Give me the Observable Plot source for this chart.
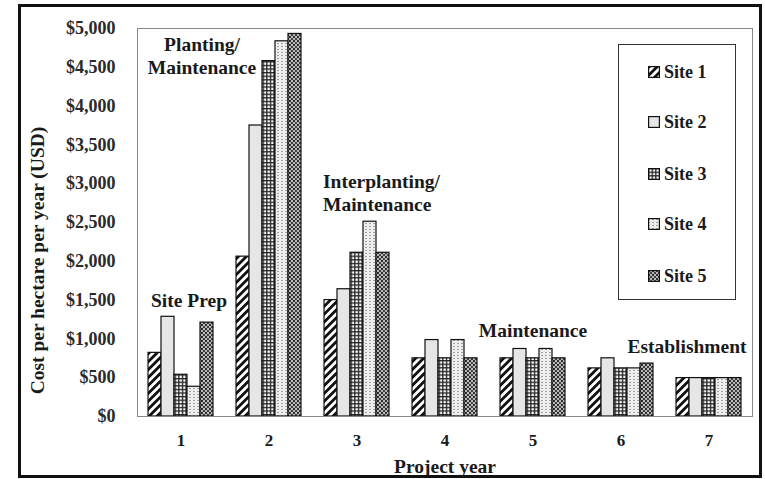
<!DOCTYPE html>
<html>
<head>
<meta charset="utf-8">
<script src="https://cdn.jsdelivr.net/npm/d3@7"></script>
<script src="https://cdn.jsdelivr.net/npm/@observablehq/plot@0.6"></script>
<style>
  html, body { margin: 0; padding: 0; background: #fff; }
  #wrap { position: relative; width: 765px; height: 479px; overflow: hidden; font-family: "Liberation Serif", serif; }
  #wrap svg, #wrap svg text { font-family: "Liberation Serif", serif; }
  #outer { position: absolute; left: 18px; top: 4px; width: 738px; height: 468px; border: 3px solid #111; pointer-events: none; }
  #frame { position: absolute; left: 137px; top: 28px; width: 614px; height: 387px; border: 1.3px solid #888; pointer-events: none; }
  #legend { position: absolute; left: 618px; top: 44px; width: 116px; height: 254px; border: 1.5px solid #333; background: #fff; }
  .entry { position: absolute; left: 29px; height: 20px; display: flex; align-items: center; font-family: "Liberation Serif", serif; font-weight: bold; font-size: 18px; color: #1a1a1a; }
  .entry svg { margin-right: 4px; }
</style>
</head>
<body>
<div id="wrap"></div>
<script>
const years = [1, 2, 3, 4, 5, 6, 7];
const sites = ["Site 1", "Site 2", "Site 3", "Site 4", "Site 5"];
const site1 = [820, 2060, 1500, 750, 750, 620, 495];
const site2 = [1285, 3750, 1640, 985, 870, 750, 495];
const site3 = [538, 4580, 2110, 750, 750, 620, 495];
const site4 = [383, 4835, 2510, 985, 870, 620, 495];
const site5 = [1210, 4930, 2110, 750, 750, 682, 495];
const yTicks = [0, 500, 1000, 1500, 2000, 2500, 3000, 3500, 4000, 4500, 5000];
const phaseLabels = ["Site Prep", "Planting/\nMaintenance", "Interplanting/\nMaintenance", "Maintenance", "Establishment"];
const phaseYears = [1, 2, 3, 5, 7];
const yTitle = "Cost per hectare per year (USD)";
const xTitle = "Project year";

const series = [site1, site2, site3, site4, site5];
const rows = [];
years.forEach((yr, i) => sites.forEach((s, j) => rows.push({year: yr, site: s, value: series[j][i]})));

const patternIds = ["p1", "p2", "p3", "p4", "p5"];
const fills = patternIds.map(id => `url(#${id})`);

// layout for the phase labels (offsets relative to the tallest bar of that year)
const phaseLayout = [
  {dx: 8, dy: -17, anchor: "middle"},
  {dx: -67, dy: 21, anchor: "middle"},
  {dx: -34, dy: -30, anchor: "start"},
  {dx: 0, dy: -19, anchor: "middle"},
  {dx: -22, dy: -33, anchor: "middle"}
];
const phases = phaseLabels.map((label, i) => ({
  label, year: phaseYears[i],
  top: d3.max(rows.filter(r => r.year === phaseYears[i]), r => r.value),
  ...phaseLayout[i]
}));

const font = {fontWeight: "bold", fill: "#1a1a1a"};
const midYear = years[Math.floor(years.length / 2)];

const marks = [
  Plot.barY(rows, {fx: "year", x: "site", y: "value", fill: "site", stroke: "#111", strokeWidth: 1.2}),
  Plot.axisY({ticks: yTicks, tickFormat: d => "$" + d3.format(",")(d), tickSize: 0, tickPadding: 31,
    fontSize: 18, fontWeight: "bold", fill: "#2a2a2a", label: null}),
  Plot.axisFx({anchor: "bottom", tickSize: 0, tickPadding: 17, fontSize: 17, fontWeight: "bold", fill: "#1a1a1a", label: null}),
  Plot.text([xTitle], {fx: () => midYear, text: d => d, frameAnchor: "bottom", textAnchor: "middle", lineAnchor: "middle",
    dy: 50, fontSize: 19.5, ...font}),
  Plot.text([yTitle], {fx: () => years[0], text: d => d, frameAnchor: "left", textAnchor: "middle", lineAnchor: "middle",
    rotate: -90, dx: -109, dy: 38, fontSize: 19.5, ...font})
];
phases.forEach(p => {
  marks.push(Plot.text([p], {fx: "year", y: "top", text: "label", dx: p.dx, dy: p.dy, textAnchor: p.anchor,
    lineAnchor: "middle", lineHeight: 1.2, frameAnchor: "middle", fontSize: 19.5, ...font}));
});

const chart = Plot.plot({
  width: 765, height: 479,
  marginLeft: 137, marginRight: 13, marginTop: 28, marginBottom: 63,
  style: {fontFamily: "Liberation Serif, serif", background: "transparent", overflow: "visible"},
  fx: {domain: years, paddingInner: 0.22, paddingOuter: 0.1},
  x: {domain: sites, padding: 0, axis: null},
  y: {domain: [0, 5000], axis: null},
  color: {type: "ordinal", domain: sites, range: fills},
  marks
});

// patterns
const defs = d3.select(chart).insert("defs", ":first-child");
const p1 = defs.append("pattern").attr("id", "p1").attr("patternUnits", "userSpaceOnUse")
  .attr("width", 5.6).attr("height", 5.6).attr("patternTransform", "rotate(45)");
p1.append("rect").attr("width", 5.6).attr("height", 5.6).attr("fill", "#fff");
p1.append("rect").attr("width", 2.8).attr("height", 5.6).attr("fill", "#111");

const p2 = defs.append("pattern").attr("id", "p2").attr("patternUnits", "userSpaceOnUse").attr("width", 4).attr("height", 4);
p2.append("rect").attr("width", 4).attr("height", 4).attr("fill", "#e6e6e6");

const p3 = defs.append("pattern").attr("id", "p3").attr("patternUnits", "userSpaceOnUse").attr("width", 3.6).attr("height", 3.6);
p3.append("rect").attr("width", 3.6).attr("height", 3.6).attr("fill", "#fff");
p3.append("rect").attr("width", 1.3).attr("height", 3.6).attr("fill", "#222");
p3.append("rect").attr("width", 3.6).attr("height", 1.3).attr("fill", "#222");

const p4 = defs.append("pattern").attr("id", "p4").attr("patternUnits", "userSpaceOnUse").attr("width", 4).attr("height", 3);
p4.append("rect").attr("width", 4).attr("height", 3).attr("fill", "#fafafa");
p4.append("circle").attr("cx", 1).attr("cy", 1.5).attr("r", 0.65).attr("fill", "#555");
p4.append("circle").attr("cx", 3).attr("cy", 0).attr("r", 0.5).attr("fill", "#aaa");
p4.append("circle").attr("cx", 3).attr("cy", 3).attr("r", 0.5).attr("fill", "#aaa");

const p5 = defs.append("pattern").attr("id", "p5").attr("patternUnits", "userSpaceOnUse").attr("width", 4).attr("height", 4);
p5.append("rect").attr("width", 4).attr("height", 4).attr("fill", "#8a8a8a");
p5.append("circle").attr("cx", 1).attr("cy", 1).attr("r", 1.1).attr("fill", "#222");
p5.append("circle").attr("cx", 3).attr("cy", 3).attr("r", 1.1).attr("fill", "#333");
p5.append("circle").attr("cx", 3).attr("cy", 1).attr("r", 0.8).attr("fill", "#fff");
p5.append("circle").attr("cx", 1).attr("cy", 3).attr("r", 0.8).attr("fill", "#eee");

const wrap = document.getElementById("wrap");
wrap.appendChild(chart);
const frame = document.createElement("div"); frame.id = "frame"; wrap.appendChild(frame);
const outer = document.createElement("div"); outer.id = "outer"; wrap.appendChild(outer);

// legend
const legend = d3.select(wrap).append("div").attr("id", "legend");
const entryTops = [17, 67, 119, 169, 221];
sites.forEach((s, i) => {
  const e = legend.append("div").attr("class", "entry").style("top", entryTops[i] + "px");
  const sw = e.append("svg").attr("width", 12).attr("height", 12);
  sw.append("rect").attr("x", 0.6).attr("y", 0.6).attr("width", 10.8).attr("height", 10.8)
    .attr("fill", fills[i]).attr("stroke", "#111").attr("stroke-width", 1.2);
  e.append("span").text(s);
});
</script>
</body>
</html>
